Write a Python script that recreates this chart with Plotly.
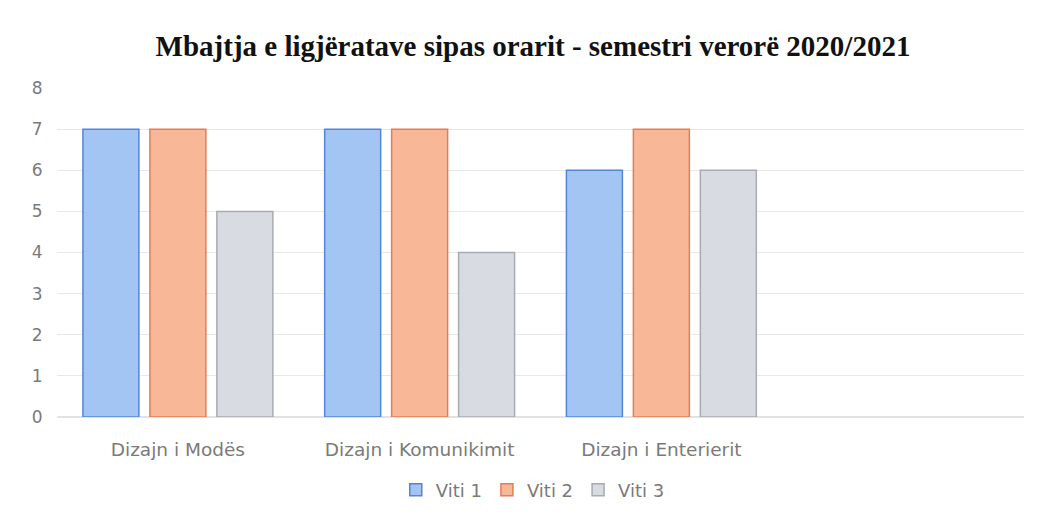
import plotly.graph_objects as go

categories = ["Dizajn i Modës", "Dizajn i Komunikimit", "Dizajn i Enterierit"]
series_names = ["Viti 1", "Viti 2", "Viti 3"]
viti1 = [7, 7, 6]
viti2 = [7, 7, 7]
viti3 = [5, 4, 6]
y_ticks = [0, 1, 2, 3, 4, 5, 6, 7, 8]

fills = ["#a3c5f3", "#f8b898", "#d8dbe1"]
lines = ["#5585d6", "#e27d58", "#a7abb3"]

fig = go.Figure()
for name, vals, fc, lc in zip(series_names, [viti1, viti2, viti3], fills, lines):
    fig.add_trace(go.Bar(
        name=name, x=categories, y=vals,
        marker=dict(color=fc, line=dict(color=lc, width=1.5)),
    ))

W, H = 1031, 522
fig.update_layout(
    width=W, height=H,
    paper_bgcolor="white", plot_bgcolor="white",
    margin=dict(l=49, r=15, t=80, b=113, autoexpand=False),
    barmode="group", bargap=0.169, bargroupgap=0.164,
    title=dict(
        text="<b>Mbajtja e ligjëratave sipas orarit - semestri verorë 2020/2021</b>",
        x=525 / W, xanchor="center", y=1 - 38 / H, yanchor="middle",
        font=dict(family="Liberation Serif", size=29, color="#111111"),
    ),
    xaxis=dict(
        type="category", categoryorder="array", categoryarray=categories,
        range=[-0.5, 3.5], showgrid=False, showline=False, zeroline=False,
        automargin=False,
        ticks="outside", ticklen=16, tickcolor="rgba(0,0,0,0)",
        tickfont=dict(family="DejaVu Sans", size=18.5, color="#7a7a7a"),
    ),
    yaxis=dict(
        range=[0, 8], tickvals=y_ticks, showgrid=True, gridcolor="#e8e8e8",
        gridwidth=1, zeroline=True, zerolinecolor="#e2e2e2", showline=False,
        automargin=False,
        ticks="outside", ticklen=10, tickcolor="rgba(0,0,0,0)",
        tickfont=dict(family="DejaVu Sans", size=17, color="#7a7a7a"),
    ),
    legend=dict(
        orientation="h", x=0.492, xanchor="center", y=(409 - 482) / 329, yanchor="middle",
        font=dict(family="DejaVu Sans", size=18, color="#7a7a7a"),
        itemwidth=30, traceorder="normal",
    ),
)

fig.write_html("out.html")
